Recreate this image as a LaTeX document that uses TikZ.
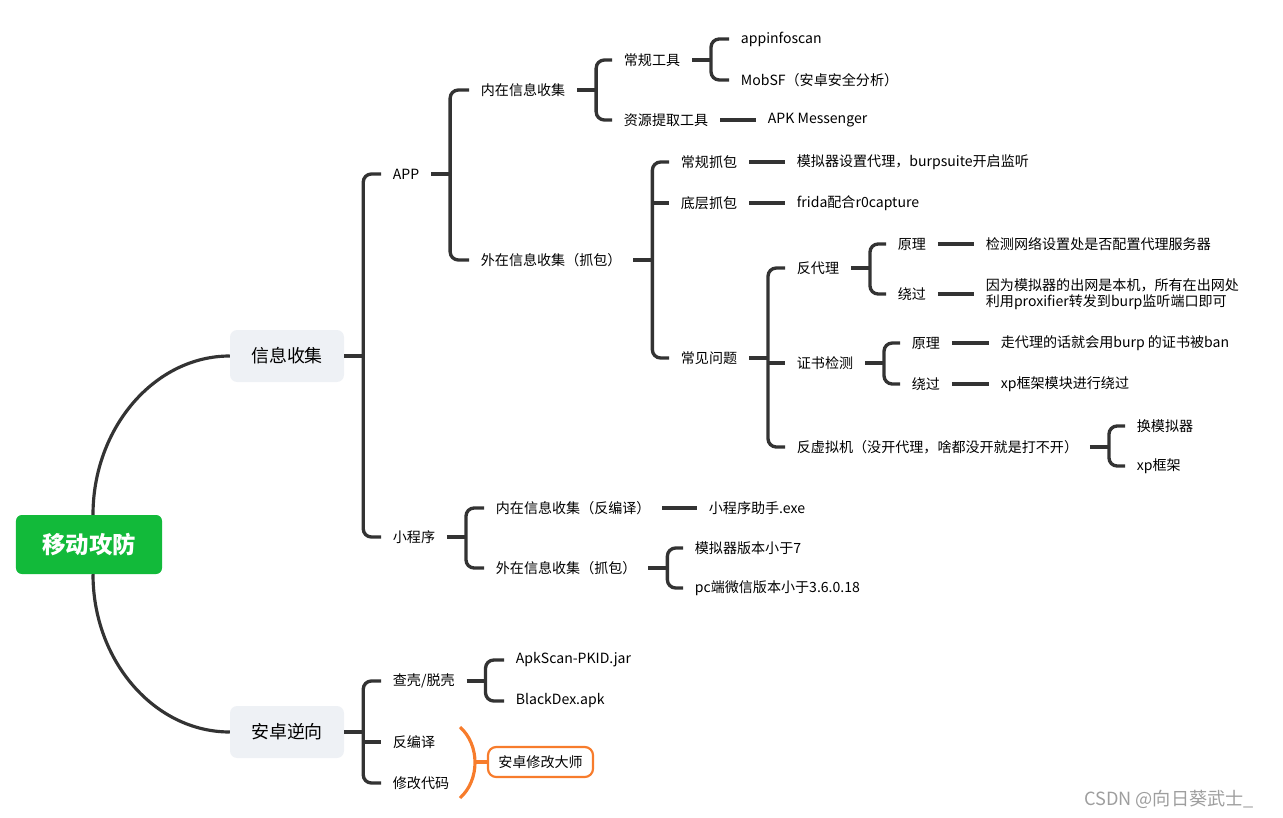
\documentclass[tikz,border=0pt]{standalone}
\usepackage{fontspec}
\setmainfont{Noto Sans CJK SC}
\usetikzlibrary{positioning}
\definecolor{VertRacine}{RGB}{18,186,58}
\definecolor{GrisBoite}{RGB}{238,241,245}
\definecolor{GrisTrait}{RGB}{51,51,51}
\definecolor{OrangeVif}{RGB}{247,124,44}
\tikzset{racine/.style={rectangle, rounded corners=5pt, fill=VertRacine,
  text=white, minimum width=4.38cm, minimum height=1.77cm,
  font=\fontsize{20}{24}\selectfont\bfseries}}
\tikzset{theme/.style={rectangle, rounded corners=6pt, fill=GrisBoite,
  minimum width=3.42cm, minimum height=1.56cm, font=\fontsize{15.3}{18}\selectfont}}
\tikzset{feuille/.style={anchor=west, inner xsep=0.35cm, inner ysep=2pt,
  align=left, font=\fontsize{12}{13.6}\selectfont}}
\tikzset{tige/.style={draw=GrisTrait, line width=0.1cm, rounded corners=7pt}}
\tikzset{courbe/.style={draw=GrisTrait, line width=0.095cm}}
\tikzset{accolade/.style={draw=OrangeVif, line width=0.095cm}}
\tikzset{note/.style={rectangle, rounded corners=7pt, draw=OrangeVif, line width=0.065cm,
  fill=white, minimum width=3.15cm, minimum height=0.9cm, font=\fontsize{12}{14}\selectfont}}

\begin{document}
\begin{tikzpicture}[x=0.03cm, y=-0.03cm]
\useasboundingbox (0,0) rectangle (1283,818);
% racine et themes
\node[racine] (mobile) at (89,544.5) {移动攻防};
\node[theme] (info) at (287,356) {信息收集};
\node[theme] (inverse) at (287,732) {安卓逆向};
\draw[courbe] ([xshift=0.12cm]mobile.north) .. controls +(0,-87) and +(-75,0) .. (info.west);
\draw[courbe] ([xshift=0.12cm]mobile.south) .. controls +(0,87) and +(-75,0) .. (inverse.west);

% 信息收集
\node[feuille] (app) at (381,174) {APP};
\node[feuille] (mini) at (381,537) {小程序};
\coordinate (infoJ) at ([xshift=0.57cm]info.east);
\draw[tige] (info.east) -- (infoJ);
\draw[tige] (app.west) -| (infoJ) |- (mini.west);

% APP
\node[feuille] (nin) at (469,90) {内在信息收集};
\node[feuille] (nout) at (469,260) {外在信息收集（抓包）};
\coordinate (appJ) at ([xshift=0.57cm]app.east);
\draw[tige] (app.east) -- (appJ);
\draw[tige] (nin.west) -| (appJ) |- (nout.west);

\node[feuille] (outil) at (612,60) {常规工具};
\node[feuille] (ressource) at (612,120) {资源提取工具};
\coordinate (ninJ) at ([xshift=0.57cm]nin.east);
\draw[tige] (nin.east) -- (ninJ);
\draw[tige] (outil.west) -| (ninJ) |- (ressource.west);

\node[feuille] (scan) at (729,39) {appinfoscan};
\node[feuille] (mobsf) at (729,80) {MobSF（安卓安全分析）};
\coordinate (outilJ) at ([xshift=0.57cm]outil.east);
\draw[tige] (outil.east) -- (outilJ);
\draw[tige] (scan.west) -| (outilJ) |- (mobsf.west);

\node[feuille] (apkm) at (756,120) {APK Messenger};
\draw[tige] (ressource.east) -- (apkm.west);

% 外在信息收集
\node[feuille] (cbao) at (669,162) {常规抓包};
\node[feuille] (dbao) at (669,203) {底层抓包};
\node[feuille] (wenti) at (669,358) {常见问题};
\coordinate (noutJ) at ([xshift=0.57cm]nout.east);
\draw[tige] (nout.east) -- (noutJ);
\draw[tige] (cbao.west) -| (noutJ) |- (wenti.west);
\draw[tige] (noutJ |- dbao.west) -- (dbao.west);

\node[feuille] (moni) at (785,162) {模拟器设置代理，burpsuite开启监听};
\node[feuille] (frida) at (785,203) {frida配合r0capture};
\draw[tige] (cbao.east) -- (moni.west);
\draw[tige] (dbao.east) -- (frida.west);

% 常见问题
\node[feuille] (fdl) at (785,268) {反代理};
\node[feuille] (zsjc) at (785,363) {证书检测};
\node[feuille] (fxnj) at (785,447) {反虚拟机（没开代理，啥都没开就是打不开）};
\coordinate (wentiJ) at ([xshift=0.57cm]wenti.east);
\draw[tige] (wenti.east) -- (wentiJ);
\draw[tige] (fdl.west) -| (wentiJ) |- (fxnj.west);
\draw[tige] (wentiJ |- zsjc.west) -- (zsjc.west);

\node[feuille] (yl1) at (886,244) {原理};
\node[feuille] (rg1) at (886,294) {绕过};
\coordinate (fdlJ) at ([xshift=0.57cm]fdl.east);
\draw[tige] (fdl.east) -- (fdlJ);
\draw[tige] (yl1.west) -| (fdlJ) |- (rg1.west);
\node[feuille] (jc) at (974,244) {检测网络设置处是否配置代理服务器};
\node[feuille] (yinwei) at (974,294) {因为模拟器的出网是本机，所有在出网处\\利用proxifier转发到burp监听端口即可};
\draw[tige] (yl1.east) -- (jc.west);
\draw[tige] (rg1.east) -- (yinwei.west);

\node[feuille] (yl2) at (900,343) {原理};
\node[feuille] (rg2) at (900,384) {绕过};
\coordinate (zsjcJ) at ([xshift=0.57cm]zsjc.east);
\draw[tige] (zsjc.east) -- (zsjcJ);
\draw[tige] (yl2.west) -| (zsjcJ) |- (rg2.west);
\node[feuille] (zdl) at (989,343) {走代理的话就会用burp 的证书被ban};
\node[feuille] (xpmk) at (989,384) {xp框架模块进行绕过};
\draw[tige] (yl2.east) -- (zdl.west);
\draw[tige] (rg2.east) -- (xpmk.west);

\node[feuille] (hmnq) at (1125,426) {换模拟器};
\node[feuille] (xpkj) at (1125,466) {xp框架};
\coordinate (fxnjJ) at ([xshift=0.57cm]fxnj.east);
\draw[tige] (fxnj.east) -- (fxnjJ);
\draw[tige] (hmnq.west) -| (fxnjJ) |- (xpkj.west);

% 小程序
\node[feuille] (mnin) at (484,508) {内在信息收集（反编译）};
\node[feuille] (mout) at (484,568) {外在信息收集（抓包）};
\coordinate (miniJ) at ([xshift=0.57cm]mini.east);
\draw[tige] (mini.east) -- (miniJ);
\draw[tige] (mnin.west) -| (miniJ) |- (mout.west);
\node[feuille] (zhushou) at (697,508) {小程序助手.exe};
\draw[tige] (mnin.east) -- (zhushou.west);
\node[feuille] (mnver) at (683,548) {模拟器版本小于7};
\node[feuille] (pcver) at (683,588) {pc端微信版本小于3.6.0.18};
\coordinate (moutJ) at ([xshift=0.57cm]mout.east);
\draw[tige] (mout.east) -- (moutJ);
\draw[tige] (mnver.west) -| (moutJ) |- (pcver.west);

% 安卓逆向
\node[feuille] (chake) at (381,681) {查壳/脱壳};
\node[feuille] (fby) at (381,742) {反编译};
\node[feuille] (xgdm) at (381,783) {修改代码};
\coordinate (invJ) at ([xshift=0.57cm]inverse.east);
\draw[tige] (inverse.east) -- (invJ);
\draw[tige] (chake.west) -| (invJ) |- (xgdm.west);
\draw[tige] (invJ |- fby.west) -- (fby.west);

\node[feuille] (apks) at (504,660) {ApkScan-PKID.jar};
\node[feuille] (bdex) at (504,701) {BlackDex.apk};
\coordinate (chakeJ) at ([xshift=0.57cm]chake.east);
\draw[tige] (chake.east) -- (chakeJ);
\draw[tige] (apks.west) -| (chakeJ) |- (bdex.west);

% accolade orange
\node[note] (maitre) at (540.5,762) {安卓修改大师};
\coordinate (accH) at (460,727);
\coordinate (accB) at (460,798);
\coordinate (accM) at (475,762);
\draw[accolade] (accH) .. controls +(20,18) and +(20,-18) .. (accB);
\draw[accolade] (accM) -- (maitre.west);

\node[anchor=west, text=black!38, font=\fontsize{15.5}{18}\selectfont] (csdn) at (1080,799) {CSDN @向日葵武士\_};
\end{tikzpicture}
\end{document}
